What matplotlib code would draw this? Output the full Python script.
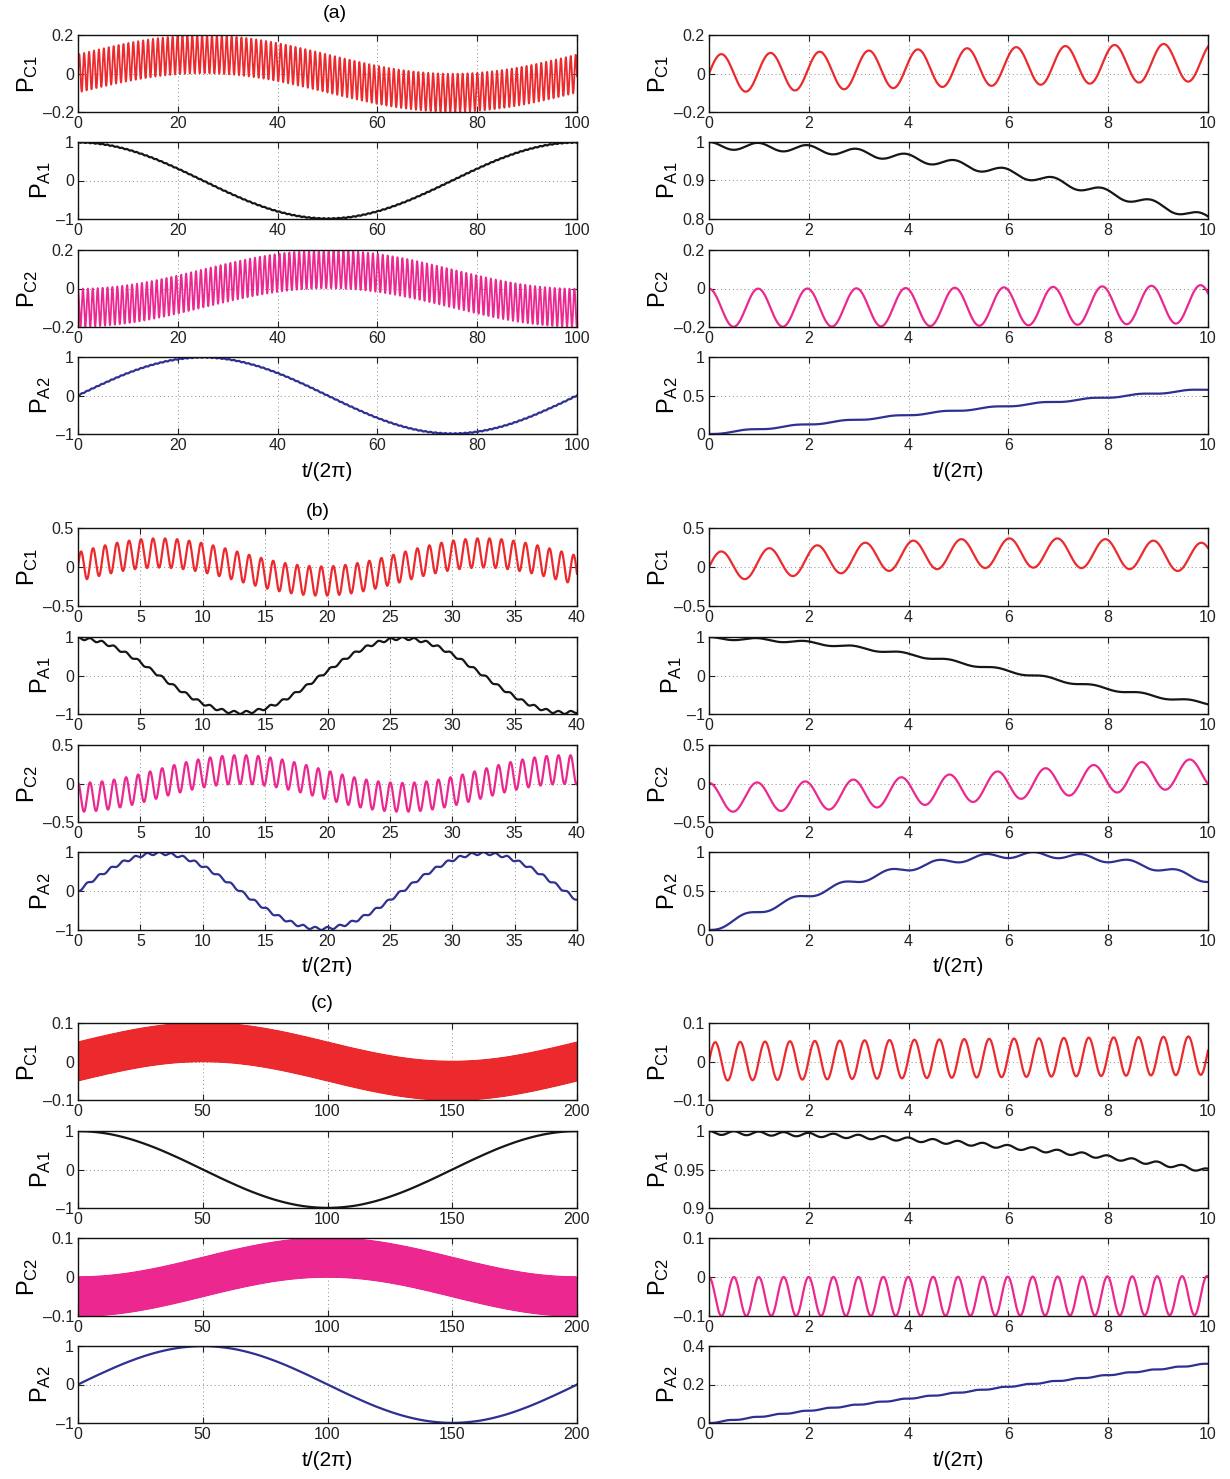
import numpy as np
import matplotlib
matplotlib.use("Agg")
import matplotlib.pyplot as plt

plt.rcParams['font.family'] = ['Liberation Sans', 'DejaVu Sans']
plt.rcParams['mathtext.fontset'] = 'custom'
plt.rcParams['mathtext.rm'] = 'Liberation Sans'
plt.rcParams['mathtext.it'] = 'Liberation Sans:italic'
plt.rcParams['mathtext.bf'] = 'Liberation Sans:bold'

# ---------------- data ----------------
# slow components sampled at knots (t/(2pi)), fast oscillation period,
# cavity oscillation amplitude and atom ripple amplitude for each case.

# case (a): slow period ~100
a_knot_t = np.linspace(0, 100, 21)
a_PA1_slow = [1.0, 0.951, 0.809, 0.588, 0.309, 0.0, -0.309, -0.588, -0.809, -0.951, -1.0,
              -0.951, -0.809, -0.588, -0.309, 0.0, 0.309, 0.588, 0.809, 0.951, 1.0]
a_PA2_slow = [0.0, 0.309, 0.588, 0.809, 0.951, 1.0, 0.951, 0.809, 0.588, 0.309, 0.0,
              -0.309, -0.588, -0.809, -0.951, -1.0, -0.951, -0.809, -0.588, -0.309, 0.0]
a_PC1_mid = [0.0, 0.031, 0.059, 0.081, 0.095, 0.1, 0.095, 0.081, 0.059, 0.031, 0.0,
             -0.031, -0.059, -0.081, -0.095, -0.1, -0.095, -0.081, -0.059, -0.031, 0.0]
a_PC2_mid = [-0.1, -0.095, -0.081, -0.059, -0.031, 0.0, 0.031, 0.059, 0.081, 0.095, 0.1,
             0.095, 0.081, 0.059, 0.031, 0.0, -0.031, -0.059, -0.081, -0.095, -0.1]
a_fast_period = 0.985
a_cavity_amp = 0.099
a_atom_ripple = 0.0098

# case (b): slow period ~26
b_knot_t = np.linspace(0, 40, 21)
b_PA1_slow = [1.0, 0.885, 0.568, 0.120, -0.355, -0.749, -0.971, -0.971, -0.749, -0.355, 0.120,
              0.568, 0.885, 1.0, 0.885, 0.568, 0.120, -0.355, -0.749, -0.971, -0.971]
b_PA2_slow = [0.0, 0.465, 0.823, 0.993, 0.935, 0.663, 0.239, -0.239, -0.663, -0.935, -0.993,
              -0.823, -0.465, 0.0, 0.465, 0.823, 0.993, 0.935, 0.663, 0.239, -0.239]
b_PC1_mid = [0.0, 0.084, 0.148, 0.179, 0.168, 0.119, 0.043, -0.043, -0.119, -0.168, -0.179,
             -0.148, -0.084, 0.0, 0.084, 0.148, 0.179, 0.168, 0.119, 0.043, -0.043]
b_PC2_mid = [-0.18, -0.159, -0.102, -0.022, 0.064, 0.135, 0.175, 0.175, 0.135, 0.064, -0.022,
             -0.102, -0.159, -0.18, -0.159, -0.102, -0.022, 0.064, 0.135, 0.175, 0.175]
b_fast_period = 0.963
b_cavity_amp = 0.188
b_atom_ripple = 0.036

# case (c): slow period ~200
c_knot_t = np.linspace(0, 200, 21)
c_PA1_slow = a_PA1_slow
c_PA2_slow = a_PA2_slow
c_PC1_mid = [0.0, 0.0155, 0.0294, 0.0405, 0.0476, 0.05, 0.0476, 0.0405, 0.0294, 0.0155, 0.0,
             -0.0155, -0.0294, -0.0405, -0.0476, -0.05, -0.0476, -0.0405, -0.0294, -0.0155, 0.0]
c_PC2_mid = [-0.05, -0.0476, -0.0405, -0.0294, -0.0155, 0.0, 0.0155, 0.0294, 0.0405, 0.0476, 0.05,
             0.0476, 0.0405, 0.0294, 0.0155, 0.0, -0.0155, -0.0294, -0.0405, -0.0476, -0.05]
c_fast_period = 0.499
c_cavity_amp = 0.05
c_atom_ripple = 0.0025

row_names = [r'$\mathrm{P_{C1}}$', r'$\mathrm{P_{A1}}$', r'$\mathrm{P_{C2}}$', r'$\mathrm{P_{A2}}$']
panel_tags = ['(a)', '(b)', '(c)']
x_label = 't/(2π)'

# axis settings: (xlim, xticks) for left & right columns, y settings per row
a_left_x = (100, [0, 20, 40, 60, 80, 100])
b_left_x = (40, [0, 5, 10, 15, 20, 25, 30, 35, 40])
c_left_x = (200, [0, 50, 100, 150, 200])
right_x = (10, [0, 2, 4, 6, 8, 10])

a_left_y = [[-0.2, 0, 0.2], [-1, 0, 1], [-0.2, 0, 0.2], [-1, 0, 1]]
a_right_y = [[-0.2, 0, 0.2], [0.8, 0.9, 1], [-0.2, 0, 0.2], [0, 0.5, 1]]
b_left_y = [[-0.5, 0, 0.5], [-1, 0, 1], [-0.5, 0, 0.5], [-1, 0, 1]]
b_right_y = [[-0.5, 0, 0.5], [-1, 0, 1], [-0.5, 0, 0.5], [0, 0.5, 1]]
c_left_y = [[-0.1, 0, 0.1], [-1, 0, 1], [-0.1, 0, 0.1], [-1, 0, 1]]
c_right_y = [[-0.1, 0, 0.1], [0.9, 0.95, 1], [-0.1, 0, 0.1], [0, 0.2, 0.4]]

# ---------------- helpers ----------------
def hermite(t, kt, kv):
    kt = np.asarray(kt, float)
    kv = np.asarray(kv, float)
    h = np.diff(kt)
    m = np.empty_like(kv)
    m[1:-1] = (kv[2:] - kv[:-2]) / (kt[2:] - kt[:-2])
    m[0] = (-3 * kv[0] + 4 * kv[1] - kv[2]) / (kt[2] - kt[0])
    m[-1] = (3 * kv[-1] - 4 * kv[-2] + kv[-3]) / (kt[-1] - kt[-3])
    i = np.clip(np.searchsorted(kt, t, side='right') - 1, 0, len(kt) - 2)
    s = (t - kt[i]) / h[i]
    h00 = 2 * s**3 - 3 * s**2 + 1
    h10 = s**3 - 2 * s**2 + s
    h01 = -2 * s**3 + 3 * s**2
    h11 = s**3 - s**2
    return h00 * kv[i] + h10 * h[i] * m[i] + h01 * kv[i + 1] + h11 * h[i] * m[i + 1]


def series(t, kt, A1, A2, C1, C2, tau, amp, rip):
    w = 2 * np.pi * t / tau
    pc1 = hermite(t, kt, C1) + amp * np.sin(w)
    pa1 = (1 - rip) * hermite(t, kt, A1) + rip * np.cos(w)
    pc2 = hermite(t, kt, C2) + amp * np.cos(w)
    pa2 = (1 - rip) * hermite(t, kt, A2) - rip * np.sin(w)
    return [pc1, pa1, pc2, pa2]


def fmt(v):
    s = '%g' % v
    return s.replace('-', '\u2013')


colors = ['#ec2a2e', '#161616', '#ec2890', '#2e3192']

W, H = 1230, 1479
fig = plt.figure(figsize=(W / 100, H / 100), dpi=100)

rows_px = [
    [(35, 112), (142, 219), (250, 327), (357, 434)],
    [(528, 606), (637, 714), (745, 822), (852, 930)],
    [(1023, 1100), (1131, 1208), (1238, 1316), (1346, 1423)],
]
cols_px = [(78, 577), (709, 1208)]
title_px = [(335, 14), (318, 511), (322, 1003)]

groups = [
    (a_knot_t, a_PA1_slow, a_PA2_slow, a_PC1_mid, a_PC2_mid, a_fast_period, a_cavity_amp,
     a_atom_ripple, a_left_x, a_left_y, a_right_y),
    (b_knot_t, b_PA1_slow, b_PA2_slow, b_PC1_mid, b_PC2_mid, b_fast_period, b_cavity_amp,
     b_atom_ripple, b_left_x, b_left_y, b_right_y),
    (c_knot_t, c_PA1_slow, c_PA2_slow, c_PC1_mid, c_PC2_mid, c_fast_period, c_cavity_amp,
     c_atom_ripple, c_left_x, c_left_y, c_right_y),
]

for g, (kt, A1, A2, C1, C2, tau, amp, rip, lx, ly, ry) in enumerate(groups):
    t_left = np.linspace(0, lx[0], 60001)
    t_right = np.linspace(0, right_x[0], 4001)
    s_left = series(t_left, kt, A1, A2, C1, C2, tau, amp, rip)
    s_right = series(t_right, kt, A1, A2, C1, C2, tau, amp, rip)
    for col in range(2):
        x0, x1 = cols_px[col]
        xs = lx if col == 0 else right_x
        yset = ly if col == 0 else ry
        tt = t_left if col == 0 else t_right
        ss = s_left if col == 0 else s_right
        for r in range(4):
            top, bot = rows_px[g][r]
            ax = fig.add_axes([x0 / W, 1 - bot / H, (x1 - x0) / W, (bot - top) / H])
            lw = 1.6
            if col == 0 and r in (0, 2) and g != 1:
                lw = 1.3
            ax.plot(tt, ss[r], color=colors[r], lw=lw, solid_joinstyle='round')
            ax.set_xlim(0, xs[0])
            ax.set_xticks(xs[1])
            ax.set_xticklabels([fmt(v) for v in xs[1]])
            yt = yset[r]
            ax.set_ylim(yt[0], yt[-1])
            ax.set_yticks(yt)
            ax.set_yticklabels([fmt(v) for v in yt])
            ax.set_axisbelow(True)
            ax.grid(True, linestyle=(0, (1, 3)), color='#8c8c8c', linewidth=0.7)
            ax.tick_params(direction='in', top=True, right=True, length=4, width=0.8,
                           labelsize=11.5, pad=3, colors='#222222')
            for sp in ax.spines.values():
                sp.set_linewidth(1.0)
                sp.set_color('#111111')
            ax.set_ylabel(row_names[r], fontsize=17, labelpad=2)
            if r == 3:
                ax.set_xlabel(x_label, fontsize=15, labelpad=6)
    tx, ty = title_px[g]
    fig.text(tx / W, 1 - ty / H, panel_tags[g], ha='center', va='center', fontsize=14)

fig.savefig('out.png', dpi=100)
